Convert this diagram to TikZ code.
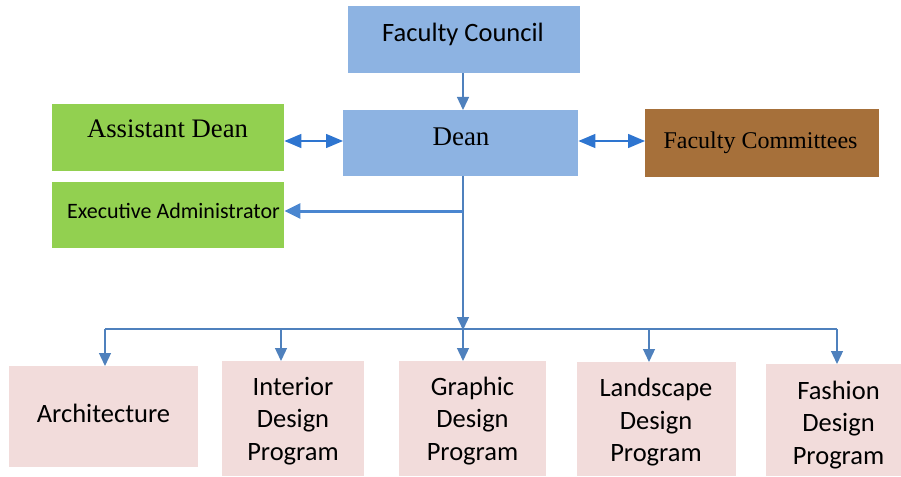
\documentclass[tikz,border=0pt]{standalone}
\usepackage{fontspec}
\setmainfont{Liberation Serif}
\newfontfamily\calibri{Carlito}
\usetikzlibrary{arrows.meta}

\definecolor{boxblue}{HTML}{8DB3E2}
\definecolor{boxgreen}{HTML}{92D050}
\definecolor{boxbrown}{HTML}{A6703A}
\definecolor{boxpink}{HTML}{F2DCDB}
\definecolor{linkblue}{HTML}{4F81BD}
\definecolor{linkbright}{HTML}{2E75D0}
\definecolor{linkmid}{HTML}{4A86D0}

\tikzset{
  box/.style={anchor=north west, inner sep=0pt},
  tag/.style={anchor=base, inner sep=0pt, align=center},
  prog/.style={tag, font=\calibri\fontsize{26.5}{32.5}\selectfont},
  link/.style={draw=linkblue, line width=1.3pt, -{Triangle[width=12pt,length=13pt]}},
  dual/.style={draw=linkbright, line width=1.5pt, {Triangle[width=14pt,length=17pt]}-{Triangle[width=14pt,length=17pt]}},
}

\begin{document}
\begin{tikzpicture}[x=1pt, y=-1pt]
    \useasboundingbox (0,0) rectangle (901,476);

    \node[box, fill=boxblue, minimum width=232pt, minimum height=67pt] (council) at (348,6) {};
    \node[box, fill=boxblue, minimum width=235pt, minimum height=66pt] (dean) at (343,110) {};
    \node[box, fill=boxgreen, minimum width=232pt, minimum height=67pt] (asst) at (52,104) {};
    \node[box, fill=boxbrown, minimum width=234pt, minimum height=68pt] (comm) at (645,109) {};
    \node[box, fill=boxgreen, minimum width=232pt, minimum height=66pt] (exec) at (52,182) {};

    \node[box, fill=boxpink, minimum width=189pt, minimum height=101pt] (arch) at (9,366) {};
    \node[box, fill=boxpink, minimum width=142pt, minimum height=115pt] (interior) at (222,361) {};
    \node[box, fill=boxpink, minimum width=147pt, minimum height=115pt] (graphic) at (399,361) {};
    \node[box, fill=boxpink, minimum width=159pt, minimum height=114pt] (landscape) at (577,362) {};
    \node[box, fill=boxpink, minimum width=140pt, minimum height=112pt] (fashion) at (766,364) {};

    \node[tag, font=\calibri\fontsize{26.5}{30}\selectfont] (councilText) at (463,41.7) {Faculty Council};
    \node[tag, font=\fontsize{27}{30}\selectfont] (deanText) at (461,145.7) {Dean};
    \node[tag, font=\fontsize{26.7}{30}\selectfont] (asstText) at (167.5,137.7) {Assistant Dean};
    \node[tag, font=\fontsize{24}{28}\selectfont] (commText) at (760.5,148.3) {Faculty Committees};
    \node[tag, font=\calibri\fontsize{22}{26}\selectfont] (execText) at (173.5,218.3) {Executive Administrator};

    \node[prog] (archText) at (103.5,422.7) {Architecture};
    \node[prog] (interiorText) at (293,460) {Interior\\Design\\Program};
    \node[prog] (graphicText) at (472.5,460) {Graphic\\Design\\Program};
    \node[prog] (landscapeText) at (656,461.7) {Landscape\\Design\\Program};
    \node[prog] (fashionText) at (838.5,464.3) {Fashion\\Design\\Program};

    \coordinate (hub) at (463,329);
    \coordinate (split) at (463,211);
    \coordinate (b1) at (105,329);
    \coordinate (b2) at (281,329);
    \coordinate (b4) at (649,329);
    \coordinate (b5) at (837,329);

    \draw[link] (council.south -| hub) -- (dean.north -| hub);
    \draw[dual] (asst.east |- 0,141) -- (dean.west |- 0,141);
    \draw[dual] (dean.east |- 0,141) -- (comm.west |- 0,141);

    \draw[link] (dean.south -| hub) -- ([yshift=-1pt]hub);
    \draw[draw=linkmid, line width=3pt, -{Triangle[width=15pt,length=16pt]}] (split) -- (exec.east |- split);

    \draw[draw=linkblue, line width=1.3pt] (b1) -- (b5);
    \draw[link] (b1) -- (b1 |- arch.north);
    \draw[link] (b2) -- (b2 |- interior.north);
    \draw[link] (hub) -- (hub |- graphic.north);
    \draw[link] (b4) -- (b4 |- landscape.north);
    \draw[link] (b5) -- (b5 |- fashion.north);
\end{tikzpicture}
\end{document}
